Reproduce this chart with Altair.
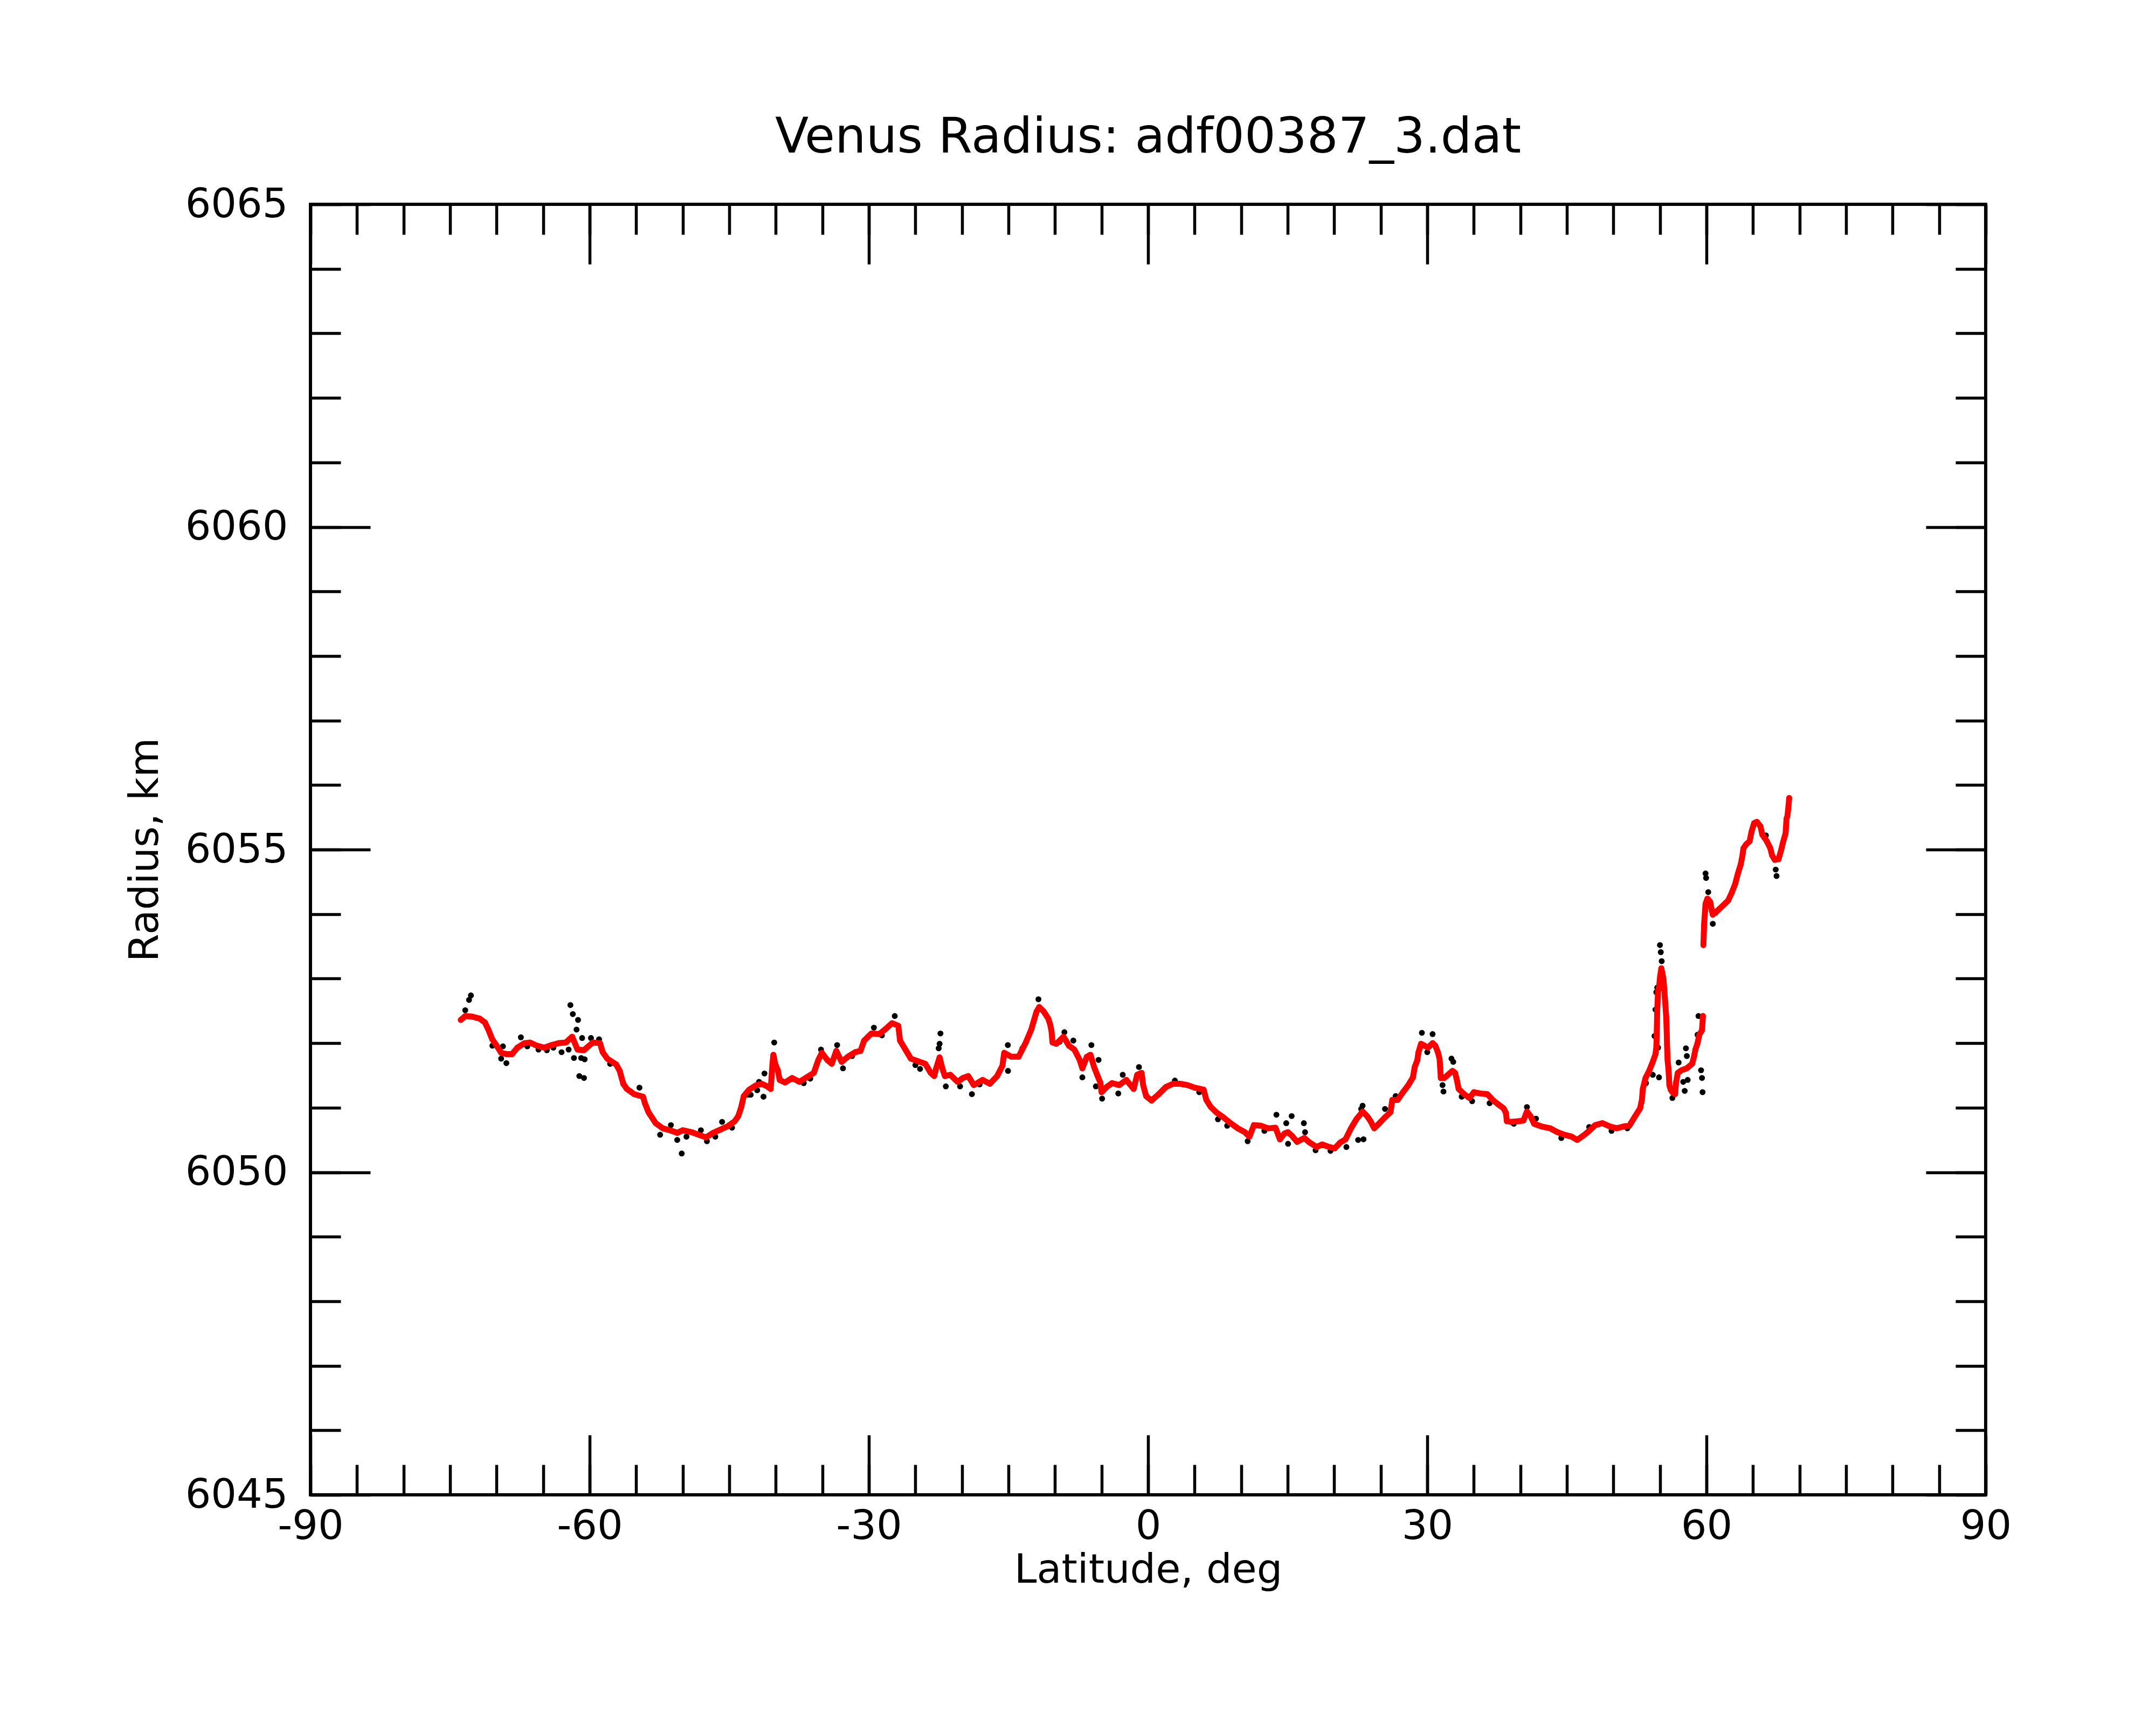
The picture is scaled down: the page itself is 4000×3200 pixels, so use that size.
import altair as alt
import pandas as pd

FONT = "DejaVu Sans"
W, H = 3108, 2394

chart_title = "Venus Radius: adf00387_3.dat"
x_title = "Latitude, deg"
y_title = "Radius, km"

x_major = [-90, -60, -30, 0, 30, 60, 90]
x_minor = [-90, -85, -80, -75, -70, -65, -60, -55, -50, -45, -40, -35, -30, -25, -20, -15, -10, -5,
           0, 5, 10, 15, 20, 25, 30, 35, 40, 45, 50, 55, 60, 65, 70, 75, 80, 85, 90]
y_major = [6045, 6050, 6055, 6060, 6065]
y_minor = [6045, 6046, 6047, 6048, 6049, 6050, 6051, 6052, 6053, 6054, 6055,
           6056, 6057, 6058, 6059, 6060, 6061, 6062, 6063, 6064, 6065]

# smoothed profile (red)
red_lat = [
    -73.85, -73.37, -72.59, -71.82, -71.25, -70.86, -70.47, -69.99, -69.51, -68.93,
    -68.34, -67.77, -67.00, -66.41, -65.65, -64.88, -64.10, -63.33, -62.56, -61.88,
    -61.30, -60.63, -59.66, -58.89, -58.60, -58.11, -57.15, -56.77, -56.39, -56.00,
    -55.22, -54.26, -54.07, -53.68, -52.91, -52.14, -51.37, -50.59, -50.01, -49.04,
    -48.28, -47.50, -46.73, -45.96, -45.19, -44.41, -44.03, -43.73, -43.44, -42.86,
    -42.09, -41.51, -40.92, -40.55, -40.46, -40.36, -40.26, -40.07, -39.78, -39.59,
    -39.01, -38.24, -37.46, -36.69, -35.91, -35.43, -35.05, -34.47, -33.99, -33.50,
    -32.92, -32.25, -31.47, -30.90, -30.51, -29.73, -28.87, -28.20, -27.51, -26.84,
    -26.65, -26.07, -25.49, -24.72, -23.94, -23.36, -22.98, -22.79, -22.40, -22.11,
    -21.83, -21.25, -20.47, -19.89, -19.32, -18.73, -17.77, -17.00, -16.22, -15.65,
    -15.46, -14.69, -13.91, -13.14, -12.55, -12.27, -11.98, -11.69, -11.21, -10.72,
    -10.52, -10.37, -10.27, -9.86, -9.09, -8.50, -7.92, -7.35, -7.06, -6.58,
    -6.19, -5.80, -5.42, -5.13, -5.00, -4.46, -3.87, -3.10, -2.33, -1.55,
    -1.17, -0.69, -0.53, -0.21, 0.37, 1.15, 1.91, 2.68, 3.46, 4.23,
    5.00, 5.97, 6.26, 6.74, 7.32, 8.09, 8.86, 9.64, 10.41, 10.89,
    11.37, 12.14, 12.92, 13.69, 14.17, 14.66, 15.04, 15.43, 16.01, 16.78,
    17.36, 18.13, 18.71, 19.48, 20.06, 20.64, 21.22, 21.80, 22.38, 23.05,
    23.53, 23.91, 24.30, 24.79, 25.46, 26.05, 26.24, 26.82, 27.39, 27.97,
    28.46, 28.65, 28.94, 29.04, 29.33, 29.71, 30.09, 30.57, 30.87, 31.16,
    31.32, 31.38, 31.45, 31.83, 32.22, 32.70, 32.99, 33.18, 33.37, 33.96,
    34.53, 35.01, 35.69, 36.46, 37.04, 37.63, 38.20, 38.45, 38.55, 38.97,
    39.75, 40.33, 40.71, 41.09, 41.48, 42.26, 43.22, 43.99, 44.76, 45.53,
    46.12, 46.89, 47.46, 48.05, 48.82, 49.60, 50.36, 51.13, 51.71, 52.30,
    52.87, 53.06, 53.16, 53.45, 53.84, 54.23, 54.52, 54.61, 54.65, 54.71,
    54.80, 54.90, 55.03, 55.15, 55.28, 55.38, 55.48, 55.53, 55.61, 55.67,
    55.73, 55.76, 55.82, 55.90, 55.96, 56.01, 56.15, 56.34, 56.63, 56.73,
    56.92, 57.31, 57.89, 58.46, 58.66, 58.81, 59.04, 59.23, 59.52, 59.62,
    59.67, 59.75, 59.90, 60.10, 60.40, 60.59, 60.68, 61.16, 61.75, 62.33,
    62.71, 63.09, 63.38, 63.68, 63.87, 63.97, 64.26, 64.64, 64.83, 65.12,
    65.42, 65.80, 66.00, 66.48, 66.86, 67.05, 67.34, 67.74, 68.02, 68.22,
    68.50, 68.60, 68.70, 68.79, 68.89,
]
red_r = [
    6052.36, 6052.42, 6052.41, 6052.38, 6052.32, 6052.20, 6052.06, 6051.96, 6051.85, 6051.83,
    6051.83, 6051.93, 6052.00, 6052.01, 6051.96, 6051.93, 6051.97, 6052.00, 6052.01, 6052.10,
    6051.90, 6051.89, 6052.01, 6052.00, 6051.86, 6051.76, 6051.67, 6051.57, 6051.37, 6051.29,
    6051.21, 6051.17, 6051.07, 6050.93, 6050.76, 6050.68, 6050.65, 6050.61, 6050.65, 6050.62,
    6050.58, 6050.54, 6050.61, 6050.66, 6050.71, 6050.79, 6050.87, 6051.00, 6051.18, 6051.28,
    6051.35, 6051.37, 6051.33, 6051.29, 6051.47, 6051.68, 6051.82, 6051.68, 6051.58, 6051.43,
    6051.39, 6051.46, 6051.40, 6051.47, 6051.54, 6051.74, 6051.85, 6051.74, 6051.68, 6051.88,
    6051.71, 6051.79, 6051.86, 6051.88, 6052.04, 6052.15, 6052.14, 6052.22, 6052.31, 6052.27,
    6052.04, 6051.90, 6051.76, 6051.72, 6051.68, 6051.54, 6051.49, 6051.60, 6051.78, 6051.61,
    6051.49, 6051.51, 6051.40, 6051.46, 6051.49, 6051.35, 6051.43, 6051.37, 6051.49, 6051.65,
    6051.85, 6051.79, 6051.79, 6052.01, 6052.21, 6052.35, 6052.49, 6052.56, 6052.49, 6052.38,
    6052.29, 6052.18, 6052.01, 6051.99, 6052.10, 6051.96, 6051.90, 6051.74, 6051.61, 6051.79,
    6051.82, 6051.63, 6051.49, 6051.39, 6051.24, 6051.32, 6051.38, 6051.35, 6051.43, 6051.29,
    6051.51, 6051.54, 6051.35, 6051.18, 6051.11, 6051.21, 6051.32, 6051.37, 6051.37, 6051.35,
    6051.31, 6051.28, 6051.12, 6051.01, 6050.93, 6050.85, 6050.76, 6050.68, 6050.62, 6050.55,
    6050.73, 6050.72, 6050.68, 6050.69, 6050.51, 6050.60, 6050.62, 6050.57, 6050.47, 6050.53,
    6050.46, 6050.39, 6050.43, 6050.39, 6050.37, 6050.46, 6050.51, 6050.68, 6050.82, 6050.94,
    6050.87, 6050.79, 6050.68, 6050.75, 6050.85, 6050.93, 6051.12, 6051.12, 6051.24, 6051.35,
    6051.47, 6051.63, 6051.74, 6051.85, 6051.99, 6051.96, 6051.93, 6052.00, 6051.96, 6051.85,
    6051.76, 6051.64, 6051.46, 6051.46, 6051.51, 6051.57, 6051.54, 6051.43, 6051.29, 6051.21,
    6051.15, 6051.24, 6051.22, 6051.21, 6051.12, 6051.05, 6050.99, 6050.92, 6050.79, 6050.78,
    6050.79, 6050.80, 6050.94, 6050.87, 6050.75, 6050.71, 6050.68, 6050.62, 6050.58, 6050.55,
    6050.50, 6050.58, 6050.65, 6050.73, 6050.76, 6050.71, 6050.68, 6050.71, 6050.72, 6050.86,
    6050.99, 6051.12, 6051.29, 6051.46, 6051.57, 6051.71, 6051.83, 6051.93, 6052.11, 6052.52,
    6052.81, 6052.86, 6053.05, 6053.16, 6053.07, 6052.99, 6052.81, 6052.70, 6052.54, 6052.41,
    6052.17, 6051.98, 6051.74, 6051.62, 6051.50, 6051.35, 6051.28, 6051.24, 6051.21, 6051.39,
    6051.54, 6051.58, 6051.61, 6051.68, 6051.79, 6051.90, 6052.00, 6052.13, 6052.20, 6052.42,
    6053.52, 6053.85, 6054.16, 6054.24, 6054.19, 6054.05, 6053.99, 6054.05, 6054.13, 6054.21,
    6054.33, 6054.47, 6054.63, 6054.77, 6054.91, 6055.02, 6055.08, 6055.13, 6055.27, 6055.41,
    6055.43, 6055.36, 6055.23, 6055.13, 6055.02, 6054.91, 6054.84, 6054.85, 6054.99, 6055.11,
    6055.25, 6055.48, 6055.52, 6055.64, 6055.80,
]

# raw measurements (black) that stand out from the smoothed profile
black_lat = [
    -73.37, -72.96, -72.76, -70.45, -69.51, -69.32, -68.95, -67.39, -66.70, -65.50,
    -64.60, -63.90, -63.02, -62.26, -62.07, -61.81, -61.69, -61.41, -61.25, -61.11,
    -60.91, -60.81, -60.61, -60.54, -59.86, -58.99, -57.80, -54.65, -52.43, -51.27,
    -50.59, -50.11, -49.60, -48.05, -47.40, -46.50, -45.77, -44.70, -43.00, -42.70,
    -42.00, -41.80, -41.32, -41.22, -40.17, -37.00, -36.30, -35.14, -33.41, -32.78,
    -31.80, -29.46, -28.60, -27.22, -25.00, -24.50, -22.50, -22.40, -22.31, -21.73,
    -20.20, -18.93, -18.10, -15.07, -15.05, -13.50, -11.78, -9.50, -8.99, -8.03,
    -7.06, -6.09, -5.61, -5.32, -4.94, -3.20, -2.72, -0.98, 2.88, 5.50,
    7.51, 8.50, 10.70, 12.50, 13.79, 14.85, 15.04, 15.43, 16.74, 16.87,
    18.00, 19.60, 21.31, 22.57, 22.90, 23.05, 23.15, 25.46, 26.60, 29.42,
    30.00, 30.57, 31.64, 31.74, 32.60, 32.79, 33.70, 34.82, 36.70, 39.30,
    40.71, 41.68, 44.40, 47.40, 49.80, 51.50, 53.50, 54.23, 54.42, 54.52,
    54.61, 54.71, 54.80, 54.90, 55.00, 55.09, 55.19, 56.34, 57.01, 57.50,
    57.66, 57.79, 57.89, 57.98, 59.04, 59.14, 59.42, 59.52, 59.58, 59.90,
    59.96, 60.19, 60.68, 60.97, 66.38, 67.44, 67.53,
]
black_r = [
    6052.51, 6052.67, 6052.74, 6051.96, 6051.76, 6051.95, 6051.69, 6052.09, 6051.95, 6051.90,
    6051.89, 6051.93, 6051.86, 6051.90, 6052.59, 6052.45, 6051.77, 6052.21, 6052.36, 6051.49,
    6051.77, 6052.08, 6051.46, 6051.75, 6052.08, 6052.06, 6051.68, 6051.31, 6050.58, 6050.73,
    6050.50, 6050.29, 6050.55, 6050.65, 6050.48, 6050.55, 6050.78, 6050.69, 6051.20, 6051.20,
    6051.27, 6051.40, 6051.17, 6051.53, 6052.01, 6051.38, 6051.45, 6051.90, 6051.97, 6051.61,
    6051.80, 6052.24, 6052.12, 6052.42, 6051.66, 6051.60, 6051.92, 6051.99, 6052.15, 6051.33,
    6051.33, 6051.21, 6051.36, 6051.97, 6051.57, 6051.92, 6052.68, 6052.02, 6052.17, 6052.04,
    6051.47, 6051.97, 6051.33, 6051.74, 6051.14, 6051.22, 6051.51, 6051.63, 6051.42, 6051.24,
    6050.82, 6050.72, 6050.48, 6050.64, 6050.89, 6050.76, 6050.44, 6050.87, 6050.76, 6050.62,
    6050.34, 6050.33, 6050.39, 6050.50, 6050.98, 6051.03, 6050.51, 6050.98, 6051.18, 6052.16,
    6051.86, 6052.14, 6051.35, 6051.25, 6051.76, 6051.71, 6051.17, 6051.10, 6051.07, 6050.75,
    6051.01, 6050.83, 6050.53, 6050.70, 6050.64, 6050.68, 6051.38, 6051.51, 6052.11, 6052.52,
    6052.79, 6052.86, 6051.93, 6051.47, 6053.52, 6053.41, 6053.27, 6051.15, 6051.70, 6051.40,
    6051.26, 6051.92, 6051.80, 6051.43, 6052.13, 6052.42, 6051.58, 6051.46, 6051.24, 6054.63,
    6054.56, 6054.34, 6053.85, 6054.02, 6055.22, 6054.69, 6054.59,
]

red = pd.DataFrame({"lat": red_lat, "r": red_r})
red["seg"] = (red["lat"] > 59.64).astype(int)
black = pd.DataFrame({"lat": black_lat, "r": black_r})

xs = alt.Scale(domain=[-90, 90], nice=False, zero=False)
ys = alt.Scale(domain=[6045, 6065], nice=False, zero=False)

MAJOR, MINOR = 111, 56


def tick_axis(orient, vals, length):
    return alt.Axis(orient=orient, values=vals, offset=-length, tickSize=length,
                    tickWidth=5.5, tickColor="black", ticks=True, labels=False,
                    domain=False, grid=False, title=None)


label_x = alt.Axis(orient="bottom", values=x_major, labelExpr="datum.value + ''",
                   ticks=False, tickSize=0, domain=False, grid=False, labelPadding=22,
                   labelFont=FONT, labelFontSize=75, labelColor="black", labelLimit=0,
                   labelFlush=False, labelOverlap=False,
                   title=x_title, titleFont=FONT, titleFontSize=75, titleFontWeight="normal",
                   titleColor="black", titleX=W / 2, titleY=162,
                   titleBaseline="alphabetic", titleAlign="center")
label_y = alt.Axis(orient="left", values=y_major, labelExpr="datum.value + ''",
                   ticks=False, tickSize=0, domain=False, grid=False, labelPadding=42,
                   labelFont=FONT, labelFontSize=75, labelColor="black", labelLimit=0,
                   labelOverlap=False,
                   title=y_title, titleFont=FONT, titleFontSize=75, titleFontWeight="normal",
                   titleColor="black", titleX=-284, titleY=H / 2, titleAngle=270,
                   titleBaseline="alphabetic", titleAlign="center")


def X(axis):
    return alt.X("lat:Q", scale=xs, axis=axis)


def Y(axis):
    return alt.Y("r:Q", scale=ys, axis=axis)


l1 = alt.Chart(black).mark_circle(color="black", size=120, opacity=1).encode(
    x=X(label_x), y=Y(label_y))
l2 = alt.Chart(red).mark_line(color="red", strokeWidth=11, strokeCap="round",
                              strokeJoin="round").encode(
    x=X(tick_axis("bottom", x_major, MAJOR)), y=Y(tick_axis("left", y_major, MAJOR)),
    detail="seg:N")
l3 = alt.Chart(red).mark_circle(color="red", size=110, opacity=1).encode(
    x=X(tick_axis("bottom", x_minor, MINOR)), y=Y(tick_axis("left", y_minor, MINOR)))
l4 = alt.Chart(red).mark_circle(opacity=0).encode(
    x=X(tick_axis("top", x_major, MAJOR)), y=Y(tick_axis("right", y_major, MAJOR)))
l5 = alt.Chart(red).mark_circle(opacity=0).encode(
    x=X(tick_axis("top", x_minor, MINOR)), y=Y(tick_axis("right", y_minor, MINOR)))

chart = alt.layer(l1, l2, l3, l4, l5).resolve_axis(
    x="independent", y="independent"
).properties(
    width=W, height=H,
    padding={"left": 568, "top": 371, "right": 300, "bottom": 400},
    autosize=alt.AutoSizeParams(type="none"),
    background="white",
    title=alt.TitleParams(text=chart_title, font=FONT, fontSize=91, fontWeight="normal",
                          color="black", anchor="middle", frame="group",
                          baseline="alphabetic", offset=58, dy=90),
).configure_view(stroke="black", strokeWidth=6)

chart.save("out.html", embed_options={"renderer": "svg", "actions": False})
